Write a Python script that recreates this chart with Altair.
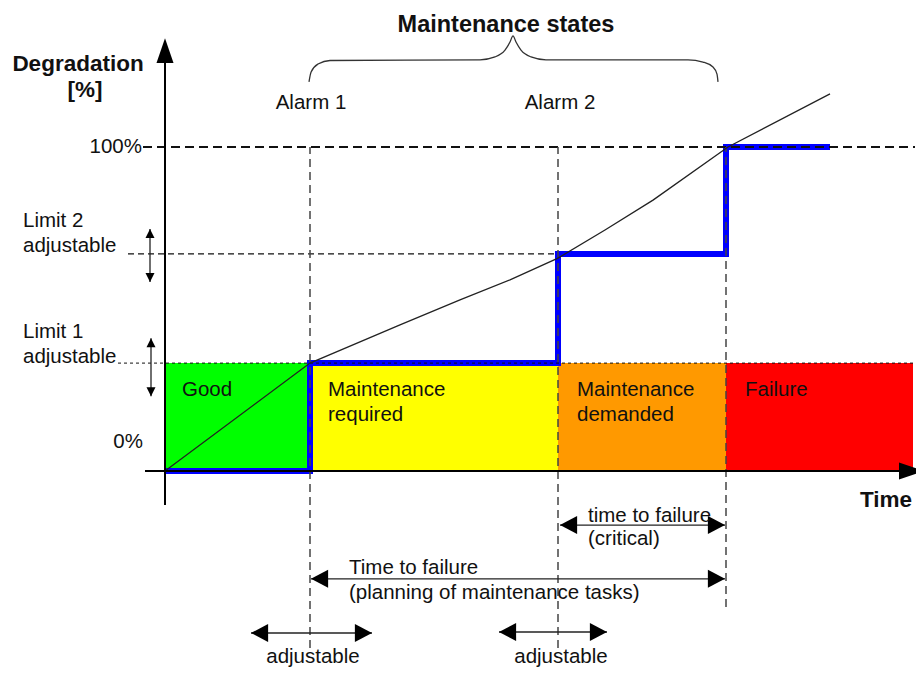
import altair as alt
import pandas as pd

# ---------------- data: time (arbitrary units) and degradation (%) ----------------
T_DOMAIN = [-15.7, 75.1]
D_DOMAIN = [-60.5, 142.9]

zone_labels = ["Good", "Maintenance required", "Maintenance demanded", "Failure"]
zone_start = [0.0, 14.5, 39.3, 56.1]
zone_end = [14.5, 39.3, 56.1, 74.8]
zone_colors = ["#00FF00", "#FFFF00", "#FF9900", "#FF0000"]
limit_1 = 33.3
limit_2 = 67.0
full_deg = 100.0
alarm_1 = 14.5
alarm_2 = 39.3
failure_t = 56.1

# degradation curve
curve_time = [0.0, 14.5, 23.5, 29.5, 34.5, 39.3, 44.0, 48.8, 56.3, 66.5]
curve_degr = [0.0, 33.3, 45.1, 52.8, 59.0, 65.7, 74.4, 83.6, 100.0, 116.4]

# maintenance state (blue step)
state_time = [0.0, 14.5, 14.5, 39.3, 39.3, 56.1, 56.1, 66.5]
state_degr = [0.0, 0.0, 33.3, 33.3, 67.0, 67.0, 100.0, 100.0]

# brace over "Maintenance states"
brace_time = [14.4, 14.6, 15.3, 16.5, 31.5, 33.0, 34.0, 34.5, 34.8, 35.1, 35.6, 36.6, 38.1, 52.3, 53.8, 54.8, 55.2, 55.3]
brace_degr = [120.1, 123.1, 125.6, 126.7, 126.9, 127.8, 129.9, 132.4, 134.3, 132.4, 129.9, 127.8, 126.9, 126.9, 126.2, 124.7, 122.5, 120.1]

# reference lines
full_line = [-2.2, 75.0]
limit2_line = [-3.7, 39.3]
limit1_line = [-4.7, 74.8]
vline_time = [14.5, 39.3, 56.1]
vline_low = [-54.6, -54.6, -42.0]

# axes
yaxis_time = 0.0
yaxis_range = [-10.5, 125.9]
yaxis_tip = 133.6
xaxis_range = [-2.0, 75.2]
xaxis_tip = 75.9

# horizontal double arrows
arrow_h_start = [39.5, 14.6, 8.6, 33.4]
arrow_h_end = [56.0, 56.0, 20.7, 44.2]
arrow_h_level = [-16.7, -33.3, -50.0, -49.7]

# vertical double arrows (limits adjustable)
arrow_v_time = [-1.5, -1.4]
arrow_v_low = [58.3, 23.1]
arrow_v_high = [74.7, 41.0]

# labels
left_text = ["Limit 2", "adjustable", "Limit 1", "adjustable", "Good", "Maintenance", "required",
             "Maintenance", "demanded", "Failure", "time to failure", "(critical)",
             "Time to failure", "(planning of maintenance tasks)"]
left_time = [-14.2, -14.2, -14.2, -14.2, 1.7, 16.3, 16.3, 41.2, 41.2, 58.0, 42.3, 42.3, 18.4, 18.4]
left_degr = [75.3, 67.6, 41.0, 33.3, 23.1, 23.1, 15.4, 23.1, 15.4, 23.1, -15.7, -22.8, -31.8, -39.5]

center_text = ["Alarm 1", "Alarm 2", "adjustable", "adjustable"]
center_time = [14.6, 39.5, 14.8, 39.6]
center_degr = [111.7, 111.7, -59.3, -59.3]

right_text = ["100%", "0%"]
right_time = [-2.3, -2.2]
right_degr = [98.1, 7.1]

bold_text = ["Maintenance states", "Degradation", "[%]", "Time"]
bold_time = [34.1, -8.7, -8.0, 72.1]
bold_degr = [135.5, 123.5, 115.4, -11.1]

# ---------------- chart ----------------
FONT = "Liberation Sans"
xs = alt.Scale(domain=T_DOMAIN, nice=False, zero=False)
ys = alt.Scale(domain=D_DOMAIN, nice=False, zero=False)


def X(f="t"):
    return alt.X(f"{f}:Q", scale=xs, axis=None)


def Y(f="d"):
    return alt.Y(f"{f}:Q", scale=ys, axis=None)


zones = pd.DataFrame({"t": zone_start, "t2": zone_end, "d": [0.0] * 4,
                      "d2": [limit_1] * 4, "c": zone_colors, "z": zone_labels})
rects = alt.Chart(zones).mark_rect(opacity=1).encode(
    x=X(), x2="t2:Q", y=Y(), y2="d2:Q", color=alt.Color("c:N", scale=None))

state = pd.DataFrame({"t": state_time, "d": state_degr, "o": list(range(len(state_time)))})
blue = alt.Chart(state).mark_line(color="#0000FF", strokeWidth=6, strokeJoin="miter", strokeCap="butt").encode(
    x=X(), y=Y(), order="o:Q")

curve = pd.DataFrame({"t": curve_time, "d": curve_degr})
curve_l = alt.Chart(curve).mark_line(color="#222", strokeWidth=1.3, interpolate="linear").encode(x=X(), y=Y())

brace = pd.DataFrame({"t": brace_time, "d": brace_degr, "o": list(range(len(brace_time)))})
brace_l = alt.Chart(brace).mark_line(color="#333", strokeWidth=1.3, interpolate="monotone").encode(
    x=X(), y=Y(), order="o:Q")

full_df = pd.DataFrame({"t": [full_line[0]], "t2": [full_line[1]], "d": [full_deg]})
full_r = alt.Chart(full_df).mark_rule(color="#111", strokeWidth=2, strokeDash=[9, 5]).encode(
    x=X(), x2="t2:Q", y=Y())
l2_df = pd.DataFrame({"t": [limit2_line[0]], "t2": [limit2_line[1]], "d": [limit_2]})
l2_r = alt.Chart(l2_df).mark_rule(color="#111", strokeWidth=1.2, strokeDash=[6, 4]).encode(
    x=X(), x2="t2:Q", y=Y())
l1_df = pd.DataFrame({"t": [limit1_line[0]], "t2": [limit1_line[1]], "d": [limit_1]})
l1_r = alt.Chart(l1_df).mark_rule(color="#111", strokeWidth=1, strokeDash=[3, 3]).encode(
    x=X(), x2="t2:Q", y=Y())
v_df = pd.DataFrame({"t": vline_time, "d": vline_low, "d2": [full_deg] * 3})
v_r = alt.Chart(v_df).mark_rule(color="#444", strokeWidth=1.5, strokeDash=[8, 5]).encode(
    x=X(), y=Y(), y2="d2:Q")

yax = alt.Chart(pd.DataFrame({"t": [yaxis_time], "d": [yaxis_range[0]], "d2": [yaxis_range[1]]})).mark_rule(
    color="black", strokeWidth=2).encode(x=X(), y=Y(), y2="d2:Q")
xax = alt.Chart(pd.DataFrame({"t": [xaxis_range[0]], "t2": [xaxis_range[1]], "d": [0.0]})).mark_rule(
    color="black", strokeWidth=2).encode(x=X(), x2="t2:Q", y=Y())

UP_BIG = "M0,0L-1,2.94L1,2.94Z"
RIGHT_BIG = "M0,0L-2.94,-1L-2.94,1Z"
LEFT_H = "M0,0L1.9,-1L1.9,1Z"
RIGHT_H = "M0,0L-1.9,-1L-1.9,1Z"
UP_S = "M0,0L-1,2L1,2Z"
DOWN_S = "M0,0L-1,-2L1,-2Z"


def heads(ts, ds, shape, size):
    df = pd.DataFrame({"t": ts, "d": ds})
    return alt.Chart(df).mark_point(shape=shape, size=size, filled=True, opacity=1,
                                    color="black", strokeWidth=0).encode(x=X(), y=Y())


ax_heads = heads([yaxis_time], [yaxis_tip], UP_BIG, 289) + heads([xaxis_tip], [0.0], RIGHT_BIG, 289)

harr = pd.DataFrame({"t": arrow_h_start, "t2": arrow_h_end, "d": arrow_h_level})
harr_l = alt.Chart(harr).mark_rule(color="#222", strokeWidth=1.3).encode(x=X(), x2="t2:Q", y=Y())
harr_h = heads(arrow_h_start, arrow_h_level, LEFT_H, 324) + heads(arrow_h_end, arrow_h_level, RIGHT_H, 324)

varr = pd.DataFrame({"t": arrow_v_time, "d": arrow_v_low, "d2": arrow_v_high})
varr_l = alt.Chart(varr).mark_rule(color="#222", strokeWidth=1.3).encode(x=X(), y=Y(), y2="d2:Q")
varr_h = heads(arrow_v_time, arrow_v_high, UP_S, 81) + heads(arrow_v_time, arrow_v_low, DOWN_S, 81)


def texts(txt, ts, ds, align, size, bold=False):
    df = pd.DataFrame({"txt": txt, "t": ts, "d": ds})
    return alt.Chart(df).mark_text(align=align, baseline="alphabetic", font=FONT, fontSize=size,
                                   fontWeight="bold" if bold else "normal", color="#111").encode(
        x=X(), y=Y(), text="txt:N")


txt_left = texts(left_text, left_time, left_degr, "left", 20.5)
txt_center = texts(center_text, center_time, center_degr, "center", 20.5)
txt_right = texts(right_text, right_time, right_degr, "right", 20.5)
txt_title = texts(bold_text[:1], bold_time[:1], bold_degr[:1], "center", 23.5, True)
txt_bold = texts(bold_text[1:], bold_time[1:], bold_degr[1:], "center", 22.5, True)

chart = alt.layer(
    rects, blue, l1_r, l2_r, full_r, v_r, curve_l, brace_l, yax, xax, ax_heads,
    harr_l, harr_h, varr_l, varr_h, txt_left, txt_center, txt_right, txt_title, txt_bold
).properties(
    width=908, height=659, padding=0, autosize=alt.AutoSizeParams(type="none"), background="white"
).configure_view(stroke=None)

chart.save("out.html", embed_options={"renderer": "svg", "actions": False})
